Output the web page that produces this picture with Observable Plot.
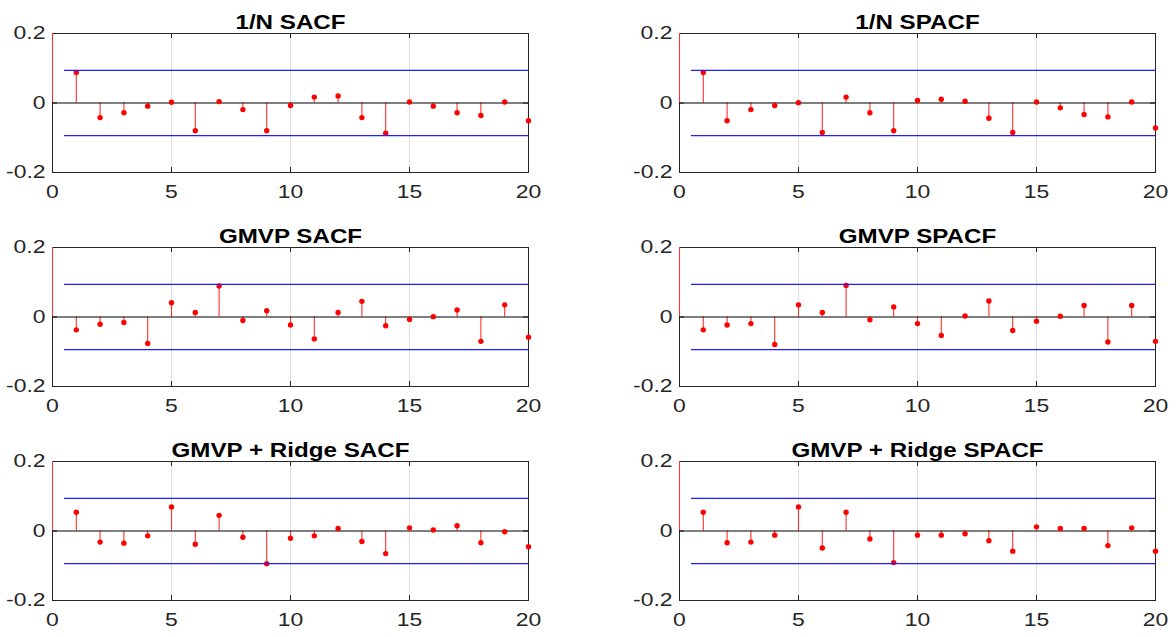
<!DOCTYPE html>
<html>
<head>
<meta charset="utf-8">
<script src="https://cdn.jsdelivr.net/npm/d3@7"></script>
<script src="https://cdn.jsdelivr.net/npm/@observablehq/plot@0.6"></script>
<style>
  html, body { margin: 0; padding: 0; background: #fff; }
  #figure { position: relative; width: 1176px; height: 637px; font-family: "Liberation Sans", Arial, sans-serif; }
  #figure > .panel { position: absolute; }
</style>
</head>
<body>
<div id="figure"></div>
<script>
// Lags 0..20 of the sample (partial) autocorrelation functions
const lags = [0, 1, 2, 3, 4, 5, 6, 7, 8, 9, 10, 11, 12, 13, 14, 15, 16, 17, 18, 19, 20];

// 1/N portfolio
const equalSACF  = [1, 0.088, -0.042, -0.028, -0.009, 0.002, -0.080, 0.004, -0.019, -0.080, -0.007, 0.017, 0.020, -0.042, -0.087, 0.003, -0.009, -0.028, -0.036, 0.003, -0.051];
const equalSPACF = [1, 0.088, -0.051, -0.019, -0.007, 0.001, -0.085, 0.017, -0.028, -0.080, 0.007, 0.011, 0.005, -0.044, -0.085, 0.003, -0.014, -0.033, -0.040, 0.003, -0.072];

// Global minimum-variance portfolio
const gmvpSACF  = [1, -0.037, -0.021, -0.016, -0.076, 0.041, 0.013, 0.089, -0.010, 0.018, -0.023, -0.063, 0.013, 0.045, -0.025, -0.007, 0.001, 0.020, -0.070, 0.035, -0.058];
const gmvpSPACF = [1, -0.037, -0.023, -0.019, -0.079, 0.035, 0.013, 0.091, -0.008, 0.029, -0.019, -0.053, 0.003, 0.046, -0.039, -0.012, 0.002, 0.033, -0.072, 0.033, -0.070];

// GMVP with ridge shrinkage
const ridgeSACF  = [1, 0.054, -0.032, -0.035, -0.014, 0.069, -0.038, 0.045, -0.018, -0.094, -0.021, -0.014, 0.007, -0.030, -0.065, 0.009, 0.003, 0.015, -0.034, -0.002, -0.045];
const ridgeSPACF = [1, 0.054, -0.034, -0.032, -0.012, 0.069, -0.049, 0.054, -0.023, -0.091, -0.012, -0.012, -0.008, -0.028, -0.058, 0.012, 0.007, 0.007, -0.042, 0.009, -0.058];

const titles = ["1/N SACF", "1/N SPACF", "GMVP SACF", "GMVP SPACF", "GMVP + Ridge SACF", "GMVP + Ridge SPACF"];
const series = [equalSACF, equalSPACF, gmvpSACF, gmvpSPACF, ridgeSACF, ridgeSPACF];

// Approximate 95% confidence bound and the lag span it is drawn over
const confBound = 0.094;
const boundSpan = [0.5, 20];

// Axis settings
const xDomain = [0, 20];
const yDomain = [-0.2, 0.2];
const xTicks = [0, 5, 10, 15, 20];
const yTicks = [-0.2, 0, 0.2];
const yTickLabels = ["-0.2", "0", "0.2"];

// Layout of the 3x2 grid
const frameH = 139, frameW = 476, tickLen = 5;
const mTop = 33, mBottom = 30, mLeft = 52;
const colLeft = [0, 627];
const colWidth = [560, 549];
const rowTop = [0, 214, 428];

// Lettering is set a little wider than the regular face
const textStretch = 1.24;

const axisColor = "#262626";

function panel(title, values, col) {
  const rows = lags.map((lag, i) => ({lag, value: values[i]}));
  const visible = rows.filter(d => d.value >= yDomain[0] && d.value <= yDomain[1]);
  const bounds = [confBound, -confBound].map(y => ({y, x1: boundSpan[0], x2: boundSpan[1]}));
  const width = colWidth[col];
  const mRight = width - mLeft - frameW;
  const svg = Plot.plot({
    width,
    height: mTop + frameH + mBottom,
    marginTop: mTop,
    marginBottom: mBottom,
    marginLeft: mLeft,
    marginRight: mRight,
    style: {
      fontFamily: "'Liberation Sans', Arial, sans-serif",
      fontSize: "18.5px",
      color: axisColor,
      background: "white",
      overflow: "visible"
    },
    x: {domain: xDomain, ticks: xTicks, tickSize: 0, tickPadding: 12, label: null},
    y: {domain: yDomain, ticks: yTicks, tickSize: 0, tickPadding: 7, label: null,
        tickFormat: d => yTickLabels[yTicks.indexOf(d)]},
    marks: [
      // vertical grid
      Plot.ruleX(xTicks, {x: d => d, stroke: "#dfdfdf", strokeWidth: 1}),
      // axes box
      Plot.frame({stroke: axisColor, strokeWidth: 1}),
      // inward tick marks on all four sides
      Plot.tickX(xTicks, {x: d => d, insetTop: frameH - tickLen, stroke: axisColor}),
      Plot.tickX(xTicks, {x: d => d, insetBottom: frameH - tickLen, stroke: axisColor}),
      Plot.tickY(yTicks, {y: d => d, insetRight: frameW - tickLen, stroke: axisColor}),
      Plot.tickY(yTicks, {y: d => d, insetLeft: frameW - tickLen, stroke: axisColor}),
      // stems
      Plot.ruleX(rows, {x: "lag", y1: 0, y2: "value", stroke: "#ff3030", strokeWidth: 1.1, clip: true}),
      // baseline
      Plot.ruleY([0], {stroke: "black", strokeWidth: 1.2}),
      // stem heads
      Plot.dot(visible, {x: "lag", y: "value", r: 2.7, fill: "red", stroke: "none"}),
      // confidence bounds
      Plot.ruleY(bounds, {y: "y", x1: "x1", x2: "x2", stroke: "#1f1fff", strokeWidth: 1.2}),
      // panel title
      Plot.text([title], {frameAnchor: "top", dy: -18, text: d => d, fontWeight: "bold",
                          fontSize: 19.5, fill: "black"})
    ]
  });
  // widen every label around its own anchor point
  svg.querySelectorAll("text").forEach(t => {
    const tr = t.getAttribute("transform") || "";
    t.setAttribute("transform", `${tr} scale(${textStretch},1)`);
  });
  return svg;
}

const fig = document.getElementById("figure");
titles.forEach((title, i) => {
  const col = i % 2, row = Math.floor(i / 2);
  const div = document.createElement("div");
  div.className = "panel";
  div.style.left = colLeft[col] + "px";
  div.style.top = rowTop[row] + "px";
  div.appendChild(panel(title, series[i], col));
  fig.appendChild(div);
});
</script>
</body>
</html>
